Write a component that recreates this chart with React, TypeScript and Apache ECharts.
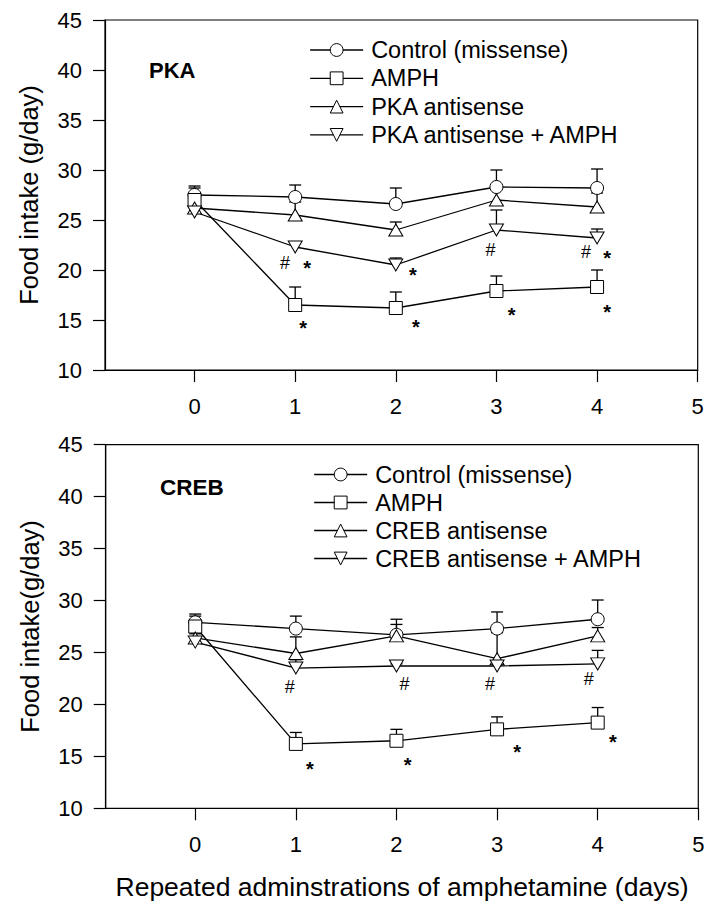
import React, { useEffect, useRef } from "react";
import * as echarts from "echarts";

// ---- data ----
const days = [0, 1, 2, 3, 4];
const xTicks = [0, 1, 2, 3, 4, 5];

// PKA panel
const pkaControl = [27.5, 27.3, 26.6, 28.3, 28.2];
const pkaControlErr = [28.4, 28.5, 28.2, 30.0, 30.1];
const pkaAmph = [27.0, 16.5, 16.2, 17.9, 18.3];
const pkaAmphErr = [28.2, 18.3, 17.8, 19.4, 20.0];
const pkaAnti = [26.2, 25.5, 24.0, 27.0, 26.3];
const pkaAntiErr = [27.1, 26.8, 24.8, 28.2, 27.7];
const pkaAntiAmph = [25.8, 22.3, 20.5, 24.0, 23.2];
const pkaAntiAmphErr = [26.7, 22.8, 21.2, 26.0, 24.1];
const pkaNoteX = [0.9, 1.12, 1.08, 2.17, 2.2, 2.94, 3.15, 3.89, 4.1, 4.1];
const pkaNoteY = [20.7, 20.7, 14.7, 20.0, 14.8, 22.0, 16.0, 21.8, 21.7, 16.3];
const pkaNoteText = ["#", "*", "*", "*", "*", "#", "*", "#", "*", "*"];

// CREB panel
const crebControl = [27.9, 27.3, 26.7, 27.3, 28.2];
const crebControlErr = [28.7, 28.5, 28.2, 28.9, 30.05];
const crebAmph = [27.5, 16.2, 16.5, 17.6, 18.25];
const crebAmphErr = [28.5, 17.3, 17.6, 18.8, 19.7];
const crebAnti = [26.4, 24.9, 26.6, 24.4, 26.6];
const crebAntiErr = [27.0, 26.5, 27.7, 26.9, 27.4];
const crebAntiAmph = [26.0, 23.5, 23.7, 23.7, 23.9];
const crebAntiAmphErr = [26.8, 24.3, 23.9, 23.9, 25.2];
const crebNoteX = [0.94, 1.14, 2.08, 2.11, 2.93, 3.2, 3.91, 4.15];
const crebNoteY = [21.7, 14.3, 22.0, 14.65, 22.0, 15.9, 22.4, 16.9];
const crebNoteText = ["#", "*", "#", "*", "#", "*", "#", "*"];

const FONT = "'Liberation Sans', Arial, Helvetica, sans-serif";
const INV_TRI = "path://M0,0L14,0L7,12Z";

export default function App() {
  const ref = useRef<HTMLDivElement>(null);

  useEffect(() => {
    document.body.style.margin = "0";
    const chart = echarts.init(ref.current!, null, { renderer: "svg" });

    const grids = [
      { left: 105, top: 20, width: 592.7, height: 350 },
      { left: 105.7, top: 444.7, width: 592.6, height: 363.6 },
    ];

    const xAxisBase = (gi: number) => ({
      type: "value",
      gridIndex: gi,
      min: -0.89,
      max: 5,
      axisLine: { show: true, onZero: false, lineStyle: { color: "#000", width: 1.2 } },
      axisTick: { show: true, length: 12, inside: false, customValues: xTicks, lineStyle: { color: "#000", width: 1.2 } },
      axisLabel: { customValues: xTicks, fontSize: 22, color: "#000", fontFamily: FONT, margin: 25 },
      splitLine: { show: false },
    });

    const yAxisBase = (gi: number, name: string) => ({
      type: "value",
      gridIndex: gi,
      min: 10,
      max: 45,
      interval: 5,
      name,
      nameLocation: "middle",
      nameRotate: 90,
      nameGap: 63,
      nameTextStyle: { fontSize: 25.5, color: "#000", fontFamily: FONT },
      axisLine: { show: true, onZero: false, lineStyle: { color: "#000", width: 1.2 } },
      axisTick: { show: true, length: 12, inside: false, lineStyle: { color: "#000", width: 1.2 } },
      axisLabel: { fontSize: 22, color: "#000", fontFamily: FONT, margin: 23 },
      splitLine: { show: false },
    });

    const lineSeries = (name: string, values: number[], symbol: string, gi: number) => ({
      name,
      type: "line",
      xAxisIndex: gi,
      yAxisIndex: gi,
      data: days.map((d, i) => [d, values[i]]),
      symbol,
      symbolSize: symbol === "circle" || symbol === "rect" ? 13 : [14, 12],
      showSymbol: true,
      lineStyle: { color: "#000", width: 1.3 },
      itemStyle: { color: "#fff", borderColor: "#000", borderWidth: 1 },
      z: 3,
    });

    const errSeries = (values: number[], tops: number[], gi: number) => ({
      type: "custom",
      xAxisIndex: gi,
      yAxisIndex: gi,
      z: 2,
      data: days.map((d, i) => [d, values[i], tops[i]]),
      renderItem: (params: any, api: any) => {
        const x = api.value(0);
        const p0 = api.coord([x, api.value(1)]);
        const p1 = api.coord([x, api.value(2)]);
        const st = { stroke: "#000", lineWidth: 1.3 };
        return {
          type: "group",
          children: [
            { type: "line", shape: { x1: p0[0], y1: p0[1], x2: p1[0], y2: p1[1] }, style: st },
            { type: "line", shape: { x1: p1[0] - 6, y1: p1[1], x2: p1[0] + 6, y2: p1[1] }, style: st },
          ],
        };
      },
    });

    const noteSeries = (xs: number[], ys: number[], texts: string[], gi: number) => ({
      type: "custom",
      xAxisIndex: gi,
      yAxisIndex: gi,
      z: 4,
      data: xs.map((x, i) => [x, ys[i]]),
      renderItem: (params: any, api: any) => {
        const p = api.coord([api.value(0), api.value(1)]);
        const t = texts[params.dataIndex];
        const star = t === "*";
        return {
          type: "text",
          x: p[0],
          y: p[1] + (star ? 5 : 0),
          style: {
            text: t,
            fill: "#000",
            fontSize: star ? 20 : 18,
            fontWeight: star ? "bold" : "normal",
            fontFamily: FONT,
            align: "center",
            verticalAlign: "middle",
          },
        };
      },
    });

    const legendBase = (left: number, top: number, gap: number, data: string[]) => ({
      orient: "vertical",
      left,
      top,
      itemWidth: 53,
      itemHeight: 16,
      itemGap: gap,
      selectedMode: false,
      data,
      textStyle: { fontSize: 23.5, color: "#000", fontFamily: FONT, lineHeight: 24, padding: [0, 0, 0, 3] },
      itemStyle: { color: "#fff", borderColor: "#000", borderWidth: 1 },
      lineStyle: { color: "#000", width: 1.3 },
    });

    chart.setOption({
      animation: false,
      backgroundColor: "#fff",
      grid: grids.map((g) => ({ ...g, show: true, borderColor: "#000", borderWidth: 1.2, backgroundColor: "transparent" })),
      xAxis: [
        xAxisBase(0),
        {
          ...xAxisBase(1),
          name: "Repeated adminstrations of amphetamine (days)",
          nameLocation: "middle",
          nameGap: 65,
          nameTextStyle: { fontSize: 26.5, color: "#000", fontFamily: FONT },
        },
      ],
      yAxis: [yAxisBase(0, "Food intake (g/day)"), yAxisBase(1, "Food intake(g/day)")],
      legend: [
        legendBase(304.5, 33, 4.3, ["Control (missense)", "AMPH", "PKA antisense", "PKA antisense + AMPH"]),
        legendBase(308.5, 457.5, 4.0, ["Control (missense)", "AMPH", "CREB antisense", "CREB antisense + AMPH"]),
      ],
      graphic: [
        { type: "text", left: 149, top: 59, style: { text: "PKA", fontSize: 22, fontWeight: "bold", fill: "#000", fontFamily: FONT } },
        { type: "text", left: 160, top: 476, style: { text: "CREB", fontSize: 22.5, fontWeight: "bold", fill: "#000", fontFamily: FONT } },
      ],
      series: [
        errSeries(pkaControl, pkaControlErr, 0),
        errSeries(pkaAmph, pkaAmphErr, 0),
        errSeries(pkaAnti, pkaAntiErr, 0),
        errSeries(pkaAntiAmph, pkaAntiAmphErr, 0),
        lineSeries("Control (missense)", pkaControl, "circle", 0),
        lineSeries("AMPH", pkaAmph, "rect", 0),
        lineSeries("PKA antisense", pkaAnti, "triangle", 0),
        lineSeries("PKA antisense + AMPH", pkaAntiAmph, INV_TRI, 0),
        noteSeries(pkaNoteX, pkaNoteY, pkaNoteText, 0),

        errSeries(crebControl, crebControlErr, 1),
        errSeries(crebAmph, crebAmphErr, 1),
        errSeries(crebAnti, crebAntiErr, 1),
        errSeries(crebAntiAmph, crebAntiAmphErr, 1),
        lineSeries("Control (missense)", crebControl, "circle", 1),
        lineSeries("AMPH", crebAmph, "rect", 1),
        lineSeries("CREB antisense", crebAnti, "triangle", 1),
        lineSeries("CREB antisense + AMPH", crebAntiAmph, INV_TRI, 1),
        noteSeries(crebNoteX, crebNoteY, crebNoteText, 1),
      ],
    });

    return () => chart.dispose();
  }, []);

  return <div ref={ref} style={{ width: 709, height: 907 }} />;
}
